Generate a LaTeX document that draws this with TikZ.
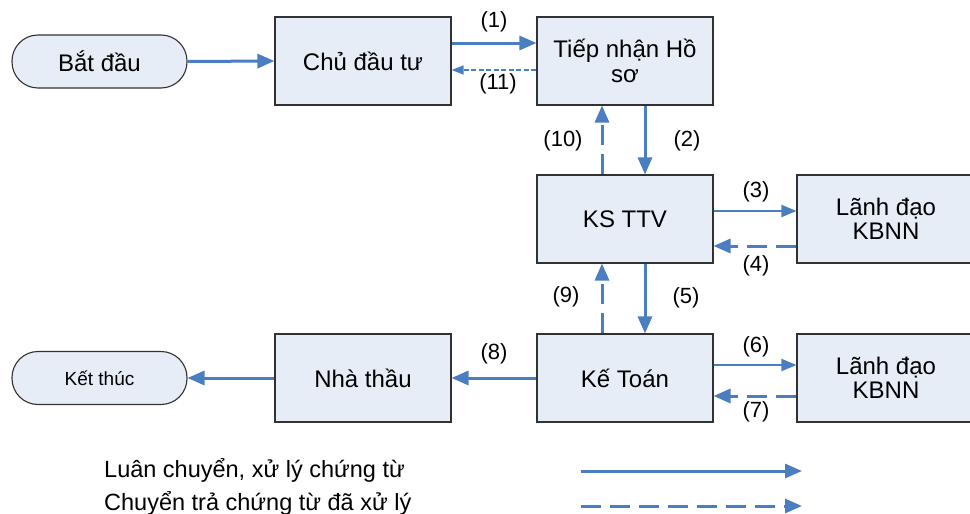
\documentclass[tikz,border=0pt]{standalone}
\usepackage{fontspec}
\setmainfont{Liberation Sans}
\usetikzlibrary{arrows.meta,calc}
\definecolor{flow}{RGB}{74,126,192}
\definecolor{boxfill}{RGB}{231,237,247}
\definecolor{boxline}{RGB}{50,50,50}
\begin{document}
\begin{tikzpicture}[x=1pt,y=-1pt,
  box/.style={draw=boxline,line width=1.1pt,fill=boxfill,minimum width=176pt,minimum height=88pt,align=center,inner sep=2pt,font=\fontsize{24}{24.5}\selectfont},
  term/.style={draw=boxline,line width=1.1pt,fill=boxfill,minimum width=175pt,minimum height=53pt,rounded corners=26pt,inner sep=2pt},
  lab/.style={font=\fontsize{22}{24}\selectfont,inner sep=0pt},
  legtext/.style={font=\fontsize{23.5}{25}\selectfont,anchor=west,inner sep=0pt},
  thick arrow/.style={draw=flow,line width=3pt,-{Triangle[length=17pt,width=14pt]}},
  thin arrow/.style={draw=flow,line width=2pt,-{Triangle[length=15pt,width=12pt]}},
  back arrow/.style={draw=flow,line width=3pt,dash pattern=on 20pt off 9pt,-{Triangle[length=17pt,width=14pt]}},
  small back/.style={draw=flow,line width=1.2pt,dash pattern=on 5pt off 2.5pt,-{Triangle[length=12pt,width=9pt]}}
]
\useasboundingbox (0,0) rectangle (970,514);
\fill[white] (0,0) rectangle (970,514);

\node[term,font=\fontsize{24}{25}\selectfont] (start) at (99.5,61.5) {Bắt đầu};
\node[box] (cdt) at (363,61) {Chủ đầu tư};
\node[box] (tn) at (625,61) {Tiếp nhận Hồ\\sơ};
\node[box] (ks) at (625,219) {KS TTV};
\node[box,minimum width=178pt] (ld1) at (886,219) {Lãnh đạo\\KBNN};
\node[box] (kt) at (625,378) {Kế Toán};
\node[box,minimum width=178pt] (ld2) at (886,378) {Lãnh đạo\\KBNN};
\node[box] (nt) at (363,378) {Nhà thầu};
\node[term,font=\fontsize{19}{21}\selectfont] (end) at (99.5,378) {Kết thúc};

% connectors
\draw[thick arrow] (start.east) -- (cdt.west);
\draw[thick arrow] ($(cdt.east)+(0,-18)$) -- ($(tn.west)+(0,-18)$);
\draw[small back] ($(tn.west)+(0,9)$) -- ($(cdt.east)+(0,9)$);
\draw[thick arrow] ($(tn.south)+(20,0)$) -- ($(ks.north)+(20,0)$);
\draw[back arrow] ($(ks.north)+(-23,0)$) -- ($(tn.south)+(-23,0)$);
\draw[thin arrow] ($(ks.east)+(0,-8)$) -- ($(ld1.west)+(0,-8)$);
\draw[back arrow] ($(ld1.west)+(0,27)$) -- ($(ks.east)+(0,27)$);
\draw[thick arrow] ($(ks.south)+(20,0)$) -- ($(kt.north)+(20,0)$);
\draw[back arrow] ($(kt.north)+(-23,0)$) -- ($(ks.south)+(-23,0)$);
\draw[thin arrow] ($(kt.east)+(0,-13)$) -- ($(ld2.west)+(0,-13)$);
\draw[back arrow] ($(ld2.west)+(0,18)$) -- ($(kt.east)+(0,18)$);
\draw[thick arrow] (kt.west) -- (nt.east);
\draw[thick arrow] (nt.west) -- (end.east);

% labels
\node[lab] (l1) at (494,22) {(1)};
\node[lab] (l11) at (498,84) {(11)};
\node[lab] (l10) at (563,141) {(10)};
\node[lab] (l2) at (687,141) {(2)};
\node[lab] (l3) at (756,192) {(3)};
\node[lab] (l4) at (756,266) {(4)};
\node[lab] (l9) at (566,297) {(9)};
\node[lab] (l5) at (686,298) {(5)};
\node[lab] (l6) at (756,347) {(6)};
\node[lab] (l7) at (756,412) {(7)};
\node[lab] (l8) at (494,354) {(8)};

% legend
\node[legtext] (leg1) at (104,470) {Luân chuyển, xử lý chứng từ};
\node[legtext] (leg2) at (104,503) {Chuyển trả chứng từ đã xử lý};
\coordinate (s1) at (581,471);
\coordinate (s2) at (802,471);
\coordinate (d1) at (581,506);
\coordinate (d2) at (802,506);
\draw[thick arrow] (s1) -- (s2);
\draw[back arrow] (d1) -- (d2);
\end{tikzpicture}
\end{document}
